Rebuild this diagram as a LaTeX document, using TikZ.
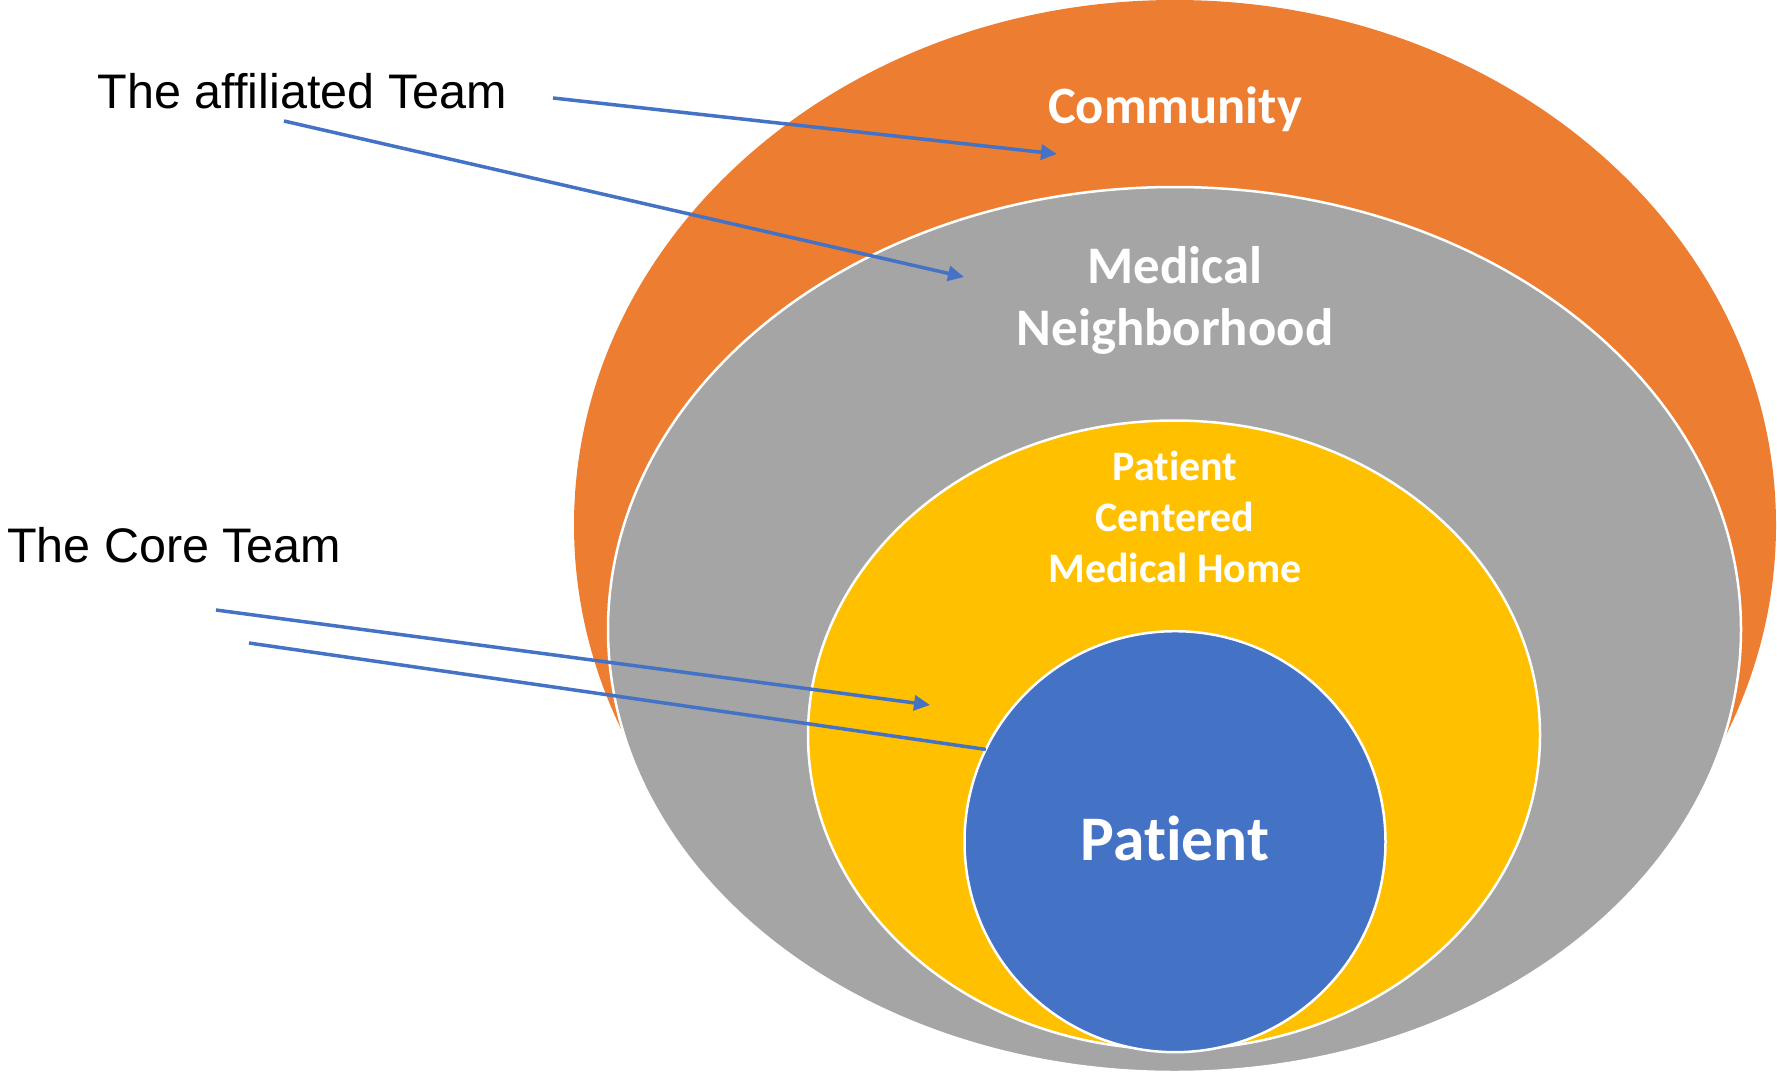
\documentclass[tikz,border=0pt]{standalone}
\usepackage{fontspec}
\setmainfont{Liberation Sans}
\newfontfamily\calib[Ligatures=NoCommon]{Carlito}
\usetikzlibrary{shapes.geometric,arrows.meta}
\definecolor{corange}{HTML}{ED7D31}
\definecolor{cgray}{HTML}{A5A5A5}
\definecolor{cyellow}{HTML}{FFC000}
\definecolor{cblue}{HTML}{4472C4}
\tikzset{
  ring/.style={ellipse, inner sep=0pt, outer sep=0pt, draw=white, line width=2.5pt},
  ringlabel/.style={text=white, inner sep=0pt, align=center, anchor=base},
  sidelabel/.style={text=black, inner sep=0pt, anchor=base west, font=\fontsize{48.5}{58}\selectfont},
  pointer/.style={draw=cblue, line width=3.5pt, -{Triangle[length=16pt,width=15pt]}},
  pointerplain/.style={draw=cblue, line width=3.5pt}
}
\begin{document}
\begin{tikzpicture}[x=1pt,y=-1pt]
\useasboundingbox (0,0) rectangle (1777,1073);
% rings
\node[ring, draw=none, fill=corange, minimum width=1202pt, minimum height=1050pt] (community) at (1175,525) {};
\node[ring, fill=cgray, minimum width=1133pt, minimum height=885pt] (neighborhood) at (1174.5,629.5) {};
\node[ring, fill=cyellow, minimum width=732pt, minimum height=629pt] (home) at (1174,735) {};
\node[ring, fill=cblue, minimum width=421pt, minimum height=421pt] (patient) at (1175,841.7) {};
% ring labels (anchor base = baseline of the last line)
\node[ringlabel, font=\calib\bfseries\fontsize{52.5}{62}\selectfont] (tcommunity) at (1175,123) {Community};
\node[ringlabel, font=\calib\bfseries\fontsize{52.8}{62}\selectfont] (tneighborhood) at (1175,345) {Medical\\Neighborhood};
\node[ringlabel, font=\calib\bfseries\fontsize{42}{51}\selectfont] (thome) at (1175,582) {Patient\\Centered\\Medical Home};
\node[ringlabel, font=\calib\bfseries\fontsize{63.5}{72}\selectfont] (tpatient) at (1175,860) {Patient};
% side labels
\node[sidelabel] (affiliated) at (97.6,108) {The affiliated Team};
\node[sidelabel] (core) at (6.9,562) {The Core Team};
% connector end points
\coordinate (a1s) at (553,98);
\coordinate (a1e) at (1057,154);
\coordinate (a2s) at (284,121);
\coordinate (a2e) at (964,277);
\coordinate (a3s) at (216,610);
\coordinate (a3e) at (930,705);
\coordinate (a4s) at (249,643);
% connectors
\draw[pointer] (a1s) -- (a1e);
\draw[pointer] (a2s) -- (a2e);
\draw[pointer] (a3s) -- (a3e);
\draw[pointerplain] (a4s) -- (patient.154.4);
\end{tikzpicture}
\end{document}
